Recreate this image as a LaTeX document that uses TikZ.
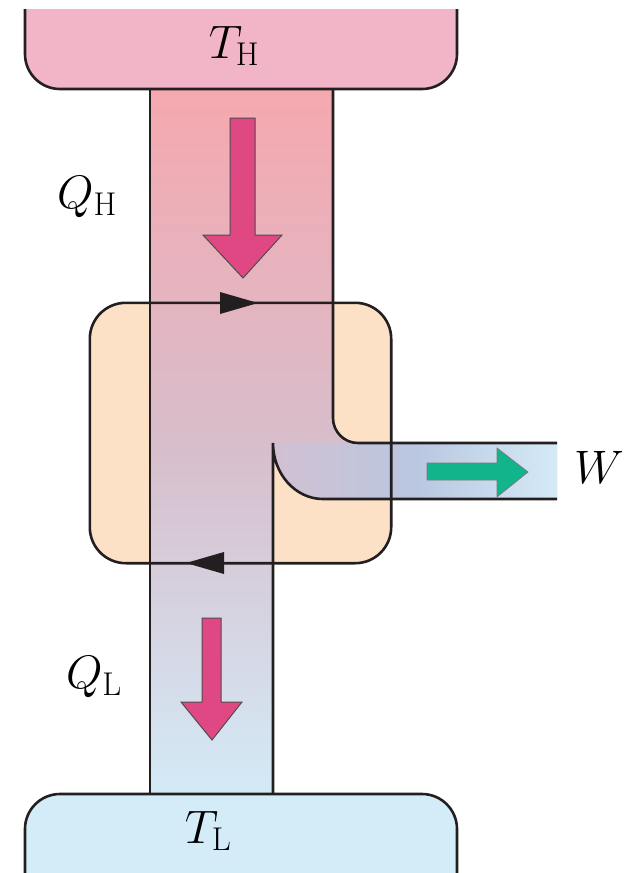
\RequirePackage{fix-cm}
\documentclass[tikz,border=0pt]{standalone}
\usepackage{amsmath}
\usepackage{xcolor}
\usetikzlibrary{arrows.meta, calc}

\definecolor{hotres}{HTML}{F2B4C7}
\definecolor{coldres}{HTML}{D4ECF8}
\definecolor{flowtop}{HTML}{F6A8AF}
\definecolor{flowmid}{HTML}{D8BDCB}
\definecolor{flowlow}{HTML}{D2C0D3}
\definecolor{flowbot}{HTML}{D4EAF7}
\definecolor{chanmid}{HTML}{B9C7E0}
\definecolor{enginefill}{HTML}{FCE1C7}
\definecolor{heatpink}{HTML}{E04884}
\definecolor{workgreen}{HTML}{12B48B}
\definecolor{inkline}{HTML}{231F20}

\begin{document}
\begin{tikzpicture}[
	x=1pt, y=-1pt,
	% --- ESTILOS ---
	outline/.style={
		draw=inkline, line width=2.6pt
	},
	enginebox/.style={
		rectangle, fill=enginefill, rounded corners=36pt,
		minimum width=301pt, minimum height=260pt, inner sep=0pt
	},
	symlabel/.style={
		font=\fontsize{47}{56}\selectfont, anchor=base, inner sep=0pt
	},
	heatarrow/.style={
		fill=heatpink, draw=inkline!80, line width=1pt, line join=miter
	},
	workarrow/.style={
		fill=workgreen, draw=inkline!60, line width=0.7pt, line join=miter
	},
	cycletip/.style={
		fill=inkline
	}
	]
	
	\useasboundingbox (0,0) rectangle (641,873);
	\clip (0,0) rectangle (641,873);
	
	% --- 1. El motor (fondo) ---
	\node [enginebox] (engine) at (240.5,433) {};
	
	% --- 2. El flujo de calor ---
	\shade [top color=flowtop, bottom color=flowbot, middle color=flowmid]
		(150,89) -- (333,89) -- (333,418)
		arc[start angle=180, end angle=270, radius=25pt] -- (557,443)
		-- (557,499) -- (323,499)
		arc[start angle=270, end angle=180, x radius=50pt, y radius=56pt]
		-- (273,794) -- (150,794) -- cycle;
	
	% Canal de trabajo (degradado horizontal)
	\shade [left color=flowlow, right color=flowbot, middle color=chanmid]
		(273,443) -- (557,443) -- (557,499) -- (323,499)
		arc[start angle=270, end angle=180, x radius=50pt, y radius=56pt] -- cycle;
	
	% Borde del motor por encima del flujo
	\draw [outline, rounded corners=36pt] (engine.north west) rectangle (engine.south east);
	
	% Bordes del flujo
	\draw [outline] (150,89) -- (150,794);
	\draw [outline] (333,89) -- (333,418)
		arc[start angle=180, end angle=270, radius=25pt] -- (557,443);
	\draw [outline] (557,499) -- (323,499)
		arc[start angle=270, end angle=180, x radius=50pt, y radius=56pt] -- (273,794);
	
	% --- 3. Las fuentes ---
	\fill [hotres, rounded corners=35pt] (25,9) -- (25,89) -- (457,89) [sharp corners] -- (457,9) -- cycle;
	\draw [outline, rounded corners=35pt] (25,9) -- (25,89) -- (457,89) -- (457,9);
	
	\fill [coldres, rounded corners=35pt] (25,890) -- (25,794) -- (457,794) [sharp corners] -- (457,890) -- cycle;
	\draw [outline, rounded corners=35pt] (25,890) -- (25,794) -- (457,794) -- (457,890);
	
	% --- 4. Sentido del ciclo ---
	\coordinate (cyc_top) at (258,303);
	\coordinate (cyc_bot) at (186,563);
	\fill [cycletip] (cyc_top) -- ++(-38,-11) -- ++(0,22) -- cycle;
	\fill [cycletip] (cyc_bot) -- ++(38,-11) -- ++(0,22) -- cycle;
	
	% --- 5. Flechas gruesas ---
	\draw [heatarrow] (230,118) -- (255,118) -- (255,235) -- (282,235) -- (243,278)
		-- (203,235) -- (230,235) -- cycle;
	\draw [heatarrow] (202,618) -- (221,618) -- (221,702) -- (242,702) -- (212,740)
		-- (181,702) -- (202,702) -- cycle;
	\draw [workarrow] (427,463) -- (497,463) -- (497,448) -- (528,472)
		-- (497,497) -- (497,480) -- (427,480) -- cycle;
	
	% --- 6. Etiquetas ---
	\node [symlabel] (t_hot) at (234,58) {$T_{\mathrm{H}}$};
	\node [symlabel] (t_cold) at (208,843) {$T_{\mathrm{L}}$};
	\node [symlabel] (q_hot) at (87,208) {$Q_{\mathrm{H}}$};
	\node [symlabel] (q_cold) at (94,688) {$Q_{\mathrm{L}}$};
	\node [symlabel] (work) at (599,483) {$W$};
	
\end{tikzpicture}
\end{document}
